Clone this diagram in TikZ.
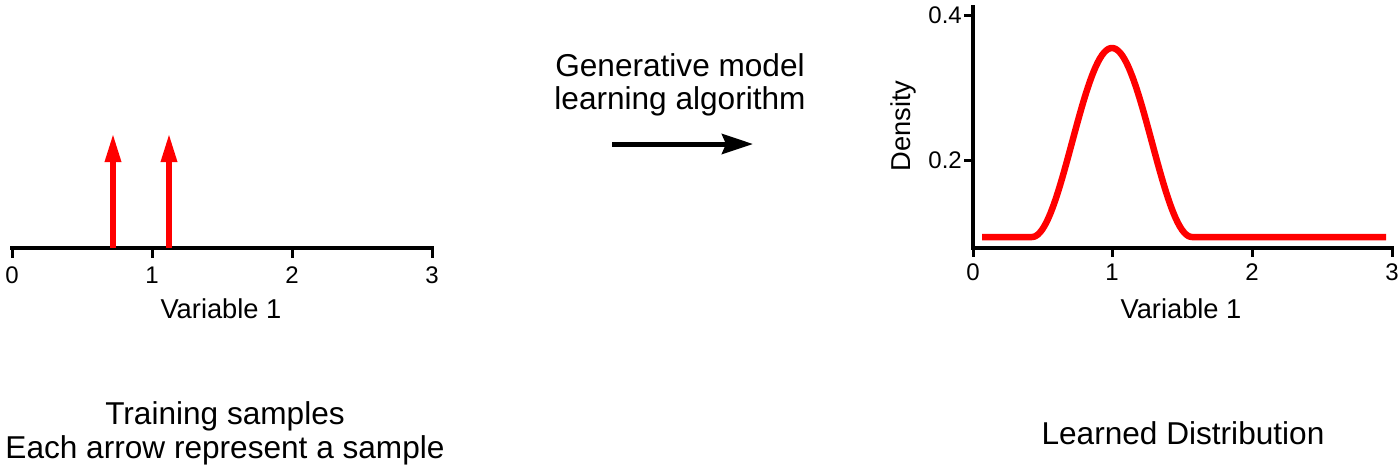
\documentclass[tikz,border=0pt]{standalone}
\usepackage{fontspec}
\setmainfont{Liberation Sans}
\usetikzlibrary{arrows.meta}
\begin{document}
\begin{tikzpicture}[x=1pt,y=-1pt,
  axis/.style={line width=4pt},
  tickmark/.style={line width=3pt},
  title/.style={font=\fontsize{31.6}{34}\selectfont, inner sep=0pt, anchor=base},
  axlabel/.style={font=\fontsize{27.3}{30}\selectfont, inner sep=0pt, anchor=base},
  ticklabel/.style={font=\fontsize{24}{26}\selectfont, inner sep=0pt},
  sample/.style={draw=red, line width=6pt, -{Triangle[length=29pt,width=15pt]}},
  flow/.style={draw=black, line width=5pt, -{Stealth[length=31pt,width=20pt,inset=4pt]}},
  density/.style={draw=red, line width=6.5pt, line join=round},
]
\useasboundingbox (0,0) rectangle (1400,475);

% ---------- left panel: training samples ----------
\coordinate (La) at (10,248);
\coordinate (Lb) at (434,248);
\draw[axis] (La) -- (Lb);
\foreach \v/\x in {0/12,1/152,2/292,3/432}{
  \coordinate (lt\v) at (\x,248);
  \coordinate (ltb\v) at (\x,258);
  \draw[tickmark] (lt\v) -- (ltb\v);
  \node[ticklabel, anchor=base] (ltl\v) at (\x,283) {\v};
}
\node[axlabel] (lxlab) at (221,318) {Variable 1};

\coordinate (s1b) at (113,248);
\coordinate (s1t) at (113,133);
\coordinate (s2b) at (169,248);
\coordinate (s2t) at (169,133);
\draw[sample] (s1b) -- (s1t);
\draw[sample] (s2b) -- (s2t);

\node[title] (train1) at (225,424) {Training samples};
\node[title] (train2) at (225,458) {Each arrow represent a sample};

% ---------- middle: learning algorithm ----------
\node[title] (gen1) at (680,76) {Generative model};
\node[title] (gen2) at (680,109) {learning algorithm};
\coordinate (arrS) at (612,144);
\coordinate (arrE) at (753,144);
\draw[flow] (arrS) -- (arrE);

% ---------- right panel: learned distribution ----------
\coordinate (Ra) at (973,5);
\coordinate (Ro) at (973,250);
\coordinate (Rx0) at (971,248);
\coordinate (Rx1) at (1394,248);
\draw[axis] (Ra) -- (Ro);
\draw[axis] (Rx0) -- (Rx1);
\foreach \v/\x in {0/973,1/1112,2/1252,3/1392}{
  \coordinate (rt\v) at (\x,248);
  \coordinate (rtb\v) at (\x,257);
  \draw[tickmark] (rt\v) -- (rtb\v);
  \node[ticklabel, anchor=base] (rtl\v) at (\x,280) {\v};
}
\foreach \k/\v/\y in {a/0.4/15,b/0.2/160}{
  \coordinate (yt\k) at (964,\y);
  \coordinate (yte\k) at (973,\y);
  \draw[tickmark] (yt\k) -- (yte\k);
  \node[ticklabel, anchor=east] (ytl\k) at (962,\y) {\v};
}
\node[axlabel, anchor=center, rotate=90] (ylab) at (903,126) {Density};
\node[axlabel] (rxlab) at (1181,318) {Variable 1};

\draw[density] (982,237) -- (1032,237)
  -- plot[domain=1032:1192, samples=81] (\x,{237-189*(1+cos(180*(\x-1112)/80))/2})
  -- (1386,237);

\node[title] (learned) at (1183,444) {Learned Distribution};
\end{tikzpicture}
\end{document}
